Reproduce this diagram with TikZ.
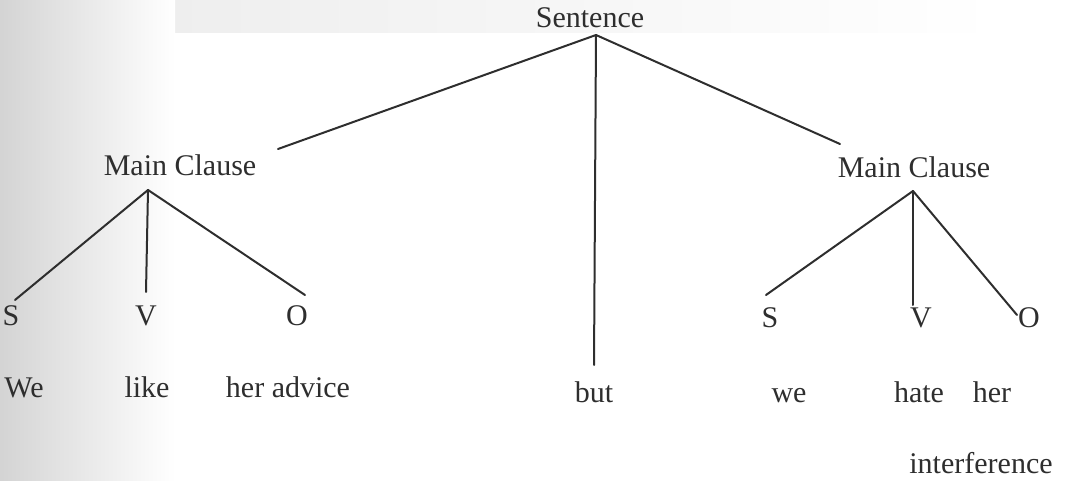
\documentclass[tikz,border=0pt]{standalone}
\usepackage{fontspec}
\setmainfont{Liberation Serif}
\begin{document}
\begin{tikzpicture}[x=1pt,y=-1pt,
  lbl/.style={anchor=base,inner sep=0pt,text=black!82,font=\fontsize{30}{36}\selectfont},
  edge/.style={draw=black!82,line width=2pt,line cap=round}]
\useasboundingbox (0,0) rectangle (1080,481);
% scan shading
\shade[left color=black!8,middle color=black!5,right color=white] (0,0) rectangle (1000,33);
\shade[left color=black!17,right color=white] (0,0) rectangle (175,481);
% nodes
\node[lbl] (sent) at (590,28) {Sentence};
\node[lbl] (mc1) at (180,176) {Main Clause};
\node[lbl] (mc2) at (914,178) {Main Clause};
\node[lbl] (s1) at (11,326) {S};
\node[lbl] (v1) at (146,326) {V};
\node[lbl] (o1) at (297,326) {O};
\node[lbl] (s2) at (770,327) {S};
\node[lbl] (v2) at (921,327) {V};
\node[lbl] (o2) at (1029,327) {O};
\node[lbl] (we1) at (24,397) {We};
\node[lbl] (like) at (147,397) {like};
\node[lbl] (adv) at (288,397) {her advice};
\node[lbl] (but) at (594,402) {but};
\node[lbl] (we2) at (789,402) {we};
\node[lbl] (hate) at (919,402) {hate};
\node[lbl] (her) at (992,402) {her};
\node[lbl] (intf) at (981,473) {interference};
% connector end points next to the labels
\coordinate (sentA) at (596,35);
\coordinate (mc1T) at (278,149);
\coordinate (mc2T) at (840,144);
\coordinate (butT) at (594,365);
\coordinate (mc1A) at (148,190);
\coordinate (s1T) at (15,300);
\coordinate (v1T) at (146,292);
\coordinate (o1T) at (305,295);
\coordinate (mc2A) at (913,191);
\coordinate (s2T) at (766,295);
\coordinate (v2T) at (913,305);
\coordinate (o2T) at (1017,315);
% connectors
\draw[edge] (sentA) -- (mc1T);
\draw[edge] (sentA) -- (butT);
\draw[edge] (sentA) -- (mc2T);
\draw[edge] (mc1A) -- (s1T);
\draw[edge] (mc1A) -- (v1T);
\draw[edge] (mc1A) -- (o1T);
\draw[edge] (mc2A) -- (s2T);
\draw[edge] (mc2A) -- (v2T);
\draw[edge] (mc2A) -- (o2T);
\end{tikzpicture}
\end{document}
